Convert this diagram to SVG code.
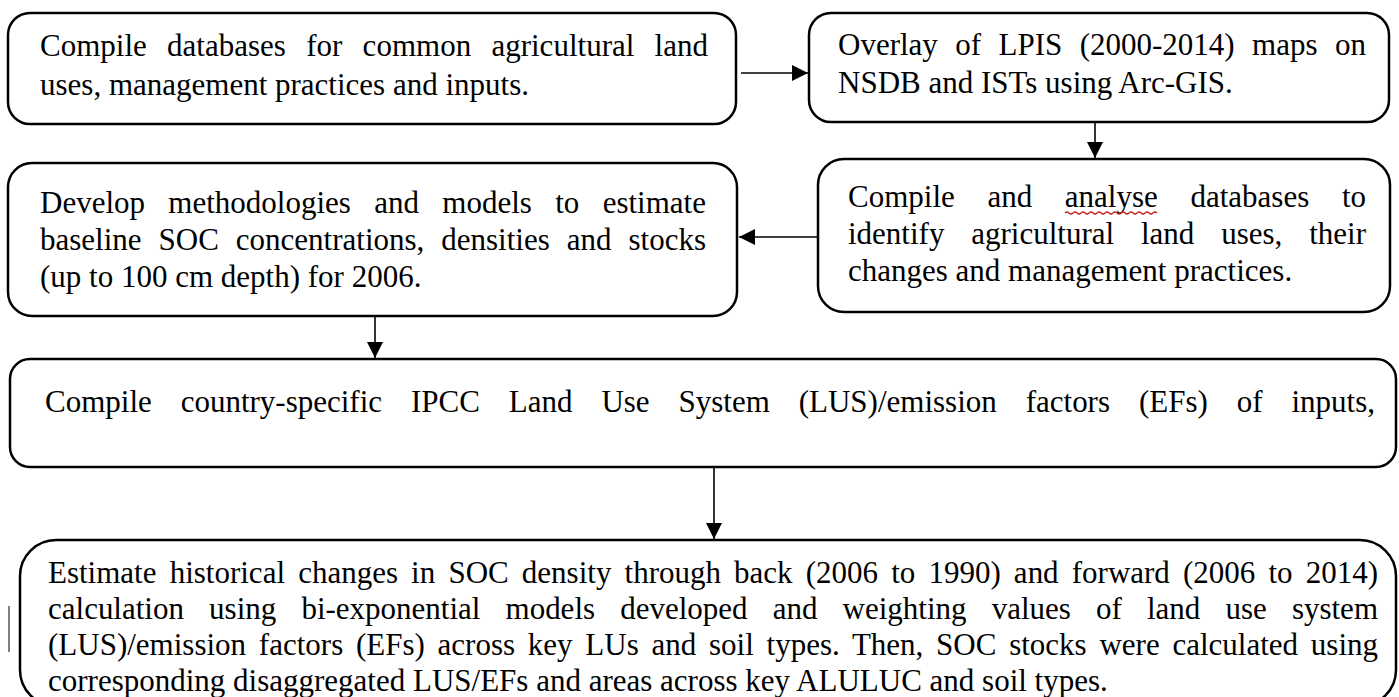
<svg xmlns="http://www.w3.org/2000/svg" width="1399" height="697" viewBox="0 0 1399 697">
<style>
.box{fill:#fff;stroke:#000;stroke-width:2.5}
.t{font-family:"Liberation Serif","Times New Roman",serif;font-size:31px;fill:#000}
.ln{stroke:#000;stroke-width:1.6;fill:none}
</style>
<defs>
<marker id="ah" viewBox="0 0 10 10" refX="10" refY="5" markerWidth="16" markerHeight="16" markerUnits="userSpaceOnUse" orient="auto">
<path d="M0,0 L10,5 L0,10 Z" fill="#000"/>
</marker>
</defs>
<rect width="1399" height="697" fill="#fff"/>
<g id="connectors">
<line class="ln" x1="741" y1="73" x2="808" y2="73" marker-end="url(#ah)"/>
<line class="ln" x1="1095" y1="122" x2="1095" y2="158" marker-end="url(#ah)"/>
<line class="ln" x1="818" y1="237" x2="739" y2="237" marker-end="url(#ah)"/>
<line class="ln" x1="375" y1="316" x2="375" y2="358" marker-end="url(#ah)"/>
<line class="ln" x1="714" y1="467" x2="714" y2="539" marker-end="url(#ah)"/>
</g>
<g id="n1">
<rect class="box" x="8" y="13" width="728" height="111" rx="22"/>
<text class="t" x="40" y="56" word-spacing="12.5" textLength="668" lengthAdjust="spacing">Compile databases for common agricultural land</text>
<text class="t" x="40" y="95">uses, management practices and inputs.</text>
</g>
<g id="n2">
<rect class="box" x="809" y="13" width="580" height="109" rx="22"/>
<text class="t" x="838" y="55" word-spacing="9.7" textLength="528" lengthAdjust="spacing">Overlay of LPIS (2000-2014) maps on</text>
<text class="t" x="838" y="93">NSDB and ISTs using Arc-GIS.</text>
</g>
<g id="n3">
<rect class="box" x="8" y="163" width="729" height="153" rx="24"/>
<text class="t" x="40" y="213" word-spacing="15.6" textLength="666" lengthAdjust="spacing">Develop methodologies and models to estimate</text>
<text class="t" x="40" y="250" word-spacing="9.2" textLength="666" lengthAdjust="spacing">baseline SOC concentrations, densities and stocks</text>
<text class="t" x="40" y="287">(up to 100 cm depth) for 2006.</text>
</g>
<g id="n4">
<rect class="box" x="818" y="159" width="572" height="153" rx="26"/>
<text class="t" x="848" y="207" word-spacing="24.9" textLength="518" lengthAdjust="spacing">Compile and analyse databases to</text>
<path d="M1065,213 q2,-2 4,0 t4,0 t4,0 t4,0 t4,0 t4,0 t4,0 t4,0 t4,0 t4,0 t4,0 t4,0 t4,0 t4,0 t4,0 t4,0 t4,0 t4,0 t4,0 t4,0 t4,0 t4,0 t4,0" fill="none" stroke="#d32020" stroke-width="1.2"/>
<text class="t" x="848" y="244" word-spacing="19.1" textLength="518" lengthAdjust="spacing">identify agricultural land uses, their</text>
<text class="t" x="848" y="281">changes and management practices.</text>
</g>
<g id="n5">
<rect class="box" x="10" y="359" width="1386" height="108" rx="20"/>
<text class="t" x="45" y="412" word-spacing="21.2" textLength="1330" lengthAdjust="spacing">Compile country-specific IPCC Land Use System (LUS)/emission factors (EFs) of inputs,</text>
</g>
<g id="n6">
<rect class="box" x="20" y="540" width="1376" height="166" rx="36"/>
<text class="t" x="48" y="583" word-spacing="5.4" textLength="1330" lengthAdjust="spacing">Estimate historical changes in SOC density through back (2006 to 1990) and forward (2006 to 2014)</text>
<text class="t" x="48" y="619" word-spacing="17.4" textLength="1330" lengthAdjust="spacing">calculation using bi-exponential models developed and weighting values of land use system</text>
<text class="t" x="48" y="655" word-spacing="5.0" textLength="1330" lengthAdjust="spacing">(LUS)/emission factors (EFs) across key LUs and soil types. Then, SOC stocks were calculated using</text>
<text class="t" x="48" y="691">corresponding disaggregated LUS/EFs and areas across key ALULUC and soil types.</text>
</g>
<line x1="9" y1="606" x2="9" y2="652" stroke="#555" stroke-width="1.5"/>
</svg>
